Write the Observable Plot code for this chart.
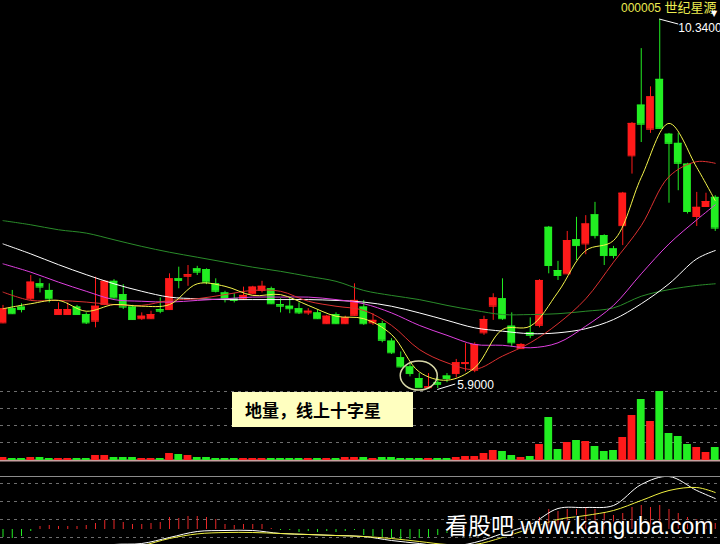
<!DOCTYPE html>
<html><head><meta charset="utf-8">
<script src="https://cdn.jsdelivr.net/npm/d3@7"></script>
<script src="https://cdn.jsdelivr.net/npm/@observablehq/plot@0.6"></script>
<style>
html,body{margin:0;padding:0;background:#000;}
#wrap{position:relative;width:720px;height:544px;overflow:hidden;background:#000;}
#title{position:absolute;left:621px;top:0px;white-space:nowrap;color:#ecec50;font-family:"Liberation Sans","Noto Sans CJK SC",sans-serif;font-size:12px;line-height:14px;}
#title .cn{font-family:"Noto Sans CJK SC",sans-serif;font-size:13px;}
#tri{position:absolute;left:711px;top:10px;color:#fff;font-size:8px;line-height:8px;font-family:"DejaVu Sans",sans-serif;}
#note{position:absolute;left:232px;top:392px;width:181px;height:35px;box-sizing:border-box;background:#ffffc0;color:#000;font-family:"Noto Sans CJK SC",sans-serif;font-weight:700;font-size:17px;line-height:35px;padding-left:13px;white-space:nowrap;}
#sep{position:absolute;left:0;top:476px;width:720px;height:1px;background:#8c8c8c;}
#wm{position:absolute;left:445px;top:515px;white-space:nowrap;color:#fff;font-family:"Liberation Sans","Noto Sans CJK SC",sans-serif;font-size:23px;line-height:23px;text-shadow:0 0 2px #000,1px 1px 1px #000,-1px -1px 1px #000;}
</style></head>
<body><div id="wrap"></div>
<script>
// ---------- data ----------
const stockName = "000005 世纪星源";
const noteText = "地量，线上十字星";
const watermark = "看股吧 www.kanguba.com";

const open = [6.69,6.86,6.88,6.98,7.16,7.08,6.79,6.79,6.88,6.79,
  6.71,6.91,7.19,7.03,6.88,6.74,6.74,6.85,6.85,7.22,
  7.25,7.34,7.33,7.16,7.05,6.98,6.98,7.04,7.08,7.10,
  6.91,6.89,6.86,6.81,6.81,6.68,6.79,6.68,6.78,6.88,
  6.69,6.68,6.47,6.27,6.16,6.02,5.91,5.97,6.05,6.08,
  6.20,6.12,6.57,6.89,6.98,6.65,6.38,6.57,6.66,7.84,
  7.32,7.28,7.69,7.64,7.99,7.74,7.58,7.86,8.70,9.31,
  9.02,9.62,8.96,8.85,8.60,7.97,8.09,8.20];
const close = [6.86,6.80,6.85,7.18,7.12,6.98,6.85,6.85,6.79,6.69,
  6.89,7.19,6.99,6.88,6.73,6.77,6.79,6.83,7.22,7.20,
  7.27,7.30,7.18,7.07,6.98,6.96,7.02,7.12,7.13,6.92,
  6.89,6.86,6.81,6.83,6.74,6.77,6.68,6.75,6.96,6.68,
  6.72,6.48,6.33,6.16,6.08,5.91,5.92,5.95,6.02,6.21,
  6.21,6.43,6.73,6.99,6.74,6.45,6.43,6.54,7.20,7.38,
  7.26,7.68,7.62,7.88,7.74,7.50,7.50,8.25,9.09,9.08,
  9.41,9.03,8.85,8.61,8.03,8.08,8.15,7.83];
const high = [6.90,7.08,6.92,7.26,7.22,7.16,6.93,6.93,6.90,6.81,
  7.24,7.20,7.21,7.15,6.90,6.81,6.83,6.99,7.28,7.36,
  7.38,7.37,7.34,7.22,7.07,7.04,7.12,7.13,7.19,7.12,
  6.98,6.99,6.93,6.86,6.84,6.78,6.81,6.77,7.16,6.96,
  6.80,6.71,6.50,6.34,6.20,6.08,6.08,6.03,6.08,6.25,
  6.44,6.45,6.77,7.04,7.22,6.81,6.44,6.75,7.21,7.85,
  7.43,7.79,7.96,7.98,8.14,7.75,7.61,8.26,9.10,9.99,
  9.53,10.34,8.97,8.97,8.61,8.26,8.25,8.22];
const low = [6.68,6.79,6.81,6.96,7.05,6.93,6.79,6.79,6.78,6.67,
  6.63,6.90,6.98,6.85,6.72,6.72,6.73,6.80,6.84,7.10,
  7.13,7.26,7.15,7.05,6.93,6.93,6.96,7.03,7.05,6.91,
  6.81,6.80,6.79,6.78,6.73,6.67,6.67,6.67,6.77,6.66,
  6.66,6.45,6.31,6.15,6.04,5.91,5.91,5.90,5.97,6.03,
  6.10,6.09,6.54,6.72,6.72,6.40,6.37,6.50,6.63,7.28,
  7.20,7.27,7.44,7.51,7.70,7.38,7.46,7.62,8.48,8.86,
  8.97,9.02,8.13,8.28,8.00,7.85,8.08,7.79];
const volume = [6,4,4,6,6,4,4,4,4,4,
  10,10,6,6,6,4,4,4,14,12,
  10,6,6,4,4,4,4,4,4,4,
  4,4,4,4,4,4,4,6,6,6,
  4,6,6,4,4,4,4,4,4,6,
  8,8,14,20,18,10,6,8,32,86,
  22,36,40,38,28,18,20,46,90,122,
  78,138,54,48,32,26,16,26];
const macd = [-0.04,-0.045,-0.035,-0.01,0.015,0.02,0.015,0.015,0.015,0.02,
  0.03,0.045,0.045,0.035,0.025,0.025,0.03,0.035,0.06,0.055,
  0.065,0.065,0.06,0.05,0.025,0.02,0.025,0.025,0.025,0.005,
  -0.005,-0.005,-0.015,-0.01,-0.015,-0.01,-0.015,-0.01,-0.005,-0.03,
  -0.035,-0.04,-0.045,-0.05,-0.05,-0.045,-0.04,-0.03,-0.02,-0.01,
  0.005,0.015,0.025,0.035,0.04,0.03,0.025,0.03,0.06,0.1,
  0.09,0.1,0.1,0.11,0.1,0.08,0.07,0.08,0.11,0.12,
  0.11,0.12,0.1,0.08,0.06,0.05,0.04,0.03];

// moving averages and MACD lines, read at every third session
const maIdx = [0,3,6,9,12,15,18,21,24,27,30,33,36,39,42,45,48,51,54,57,60,63,66,69,72,75,77];
const ma5  = [6.86,6.92,6.96,6.83,6.91,6.89,6.91,7.16,7.13,7.02,7.03,6.90,6.77,6.74,6.55,6.10,6.00,6.15,6.61,6.65,7.06,7.56,7.68,8.44,9.09,8.56,8.16];
const ma10 = [7.06,6.96,6.96,6.94,6.91,6.90,6.96,6.98,7.03,7.08,7.07,6.95,6.89,6.84,6.66,6.37,6.21,6.13,6.29,6.45,6.68,6.98,7.42,7.86,8.45,8.63,8.61];
const ma20 = [7.40,7.30,7.18,7.07,6.97,6.95,6.94,6.96,6.98,7.00,7.00,7.00,6.97,6.92,6.81,6.66,6.54,6.43,6.42,6.39,6.45,6.65,6.90,7.28,7.64,7.93,8.11];
const ma30 = [7.64,7.52,7.39,7.27,7.16,7.07,7.00,6.98,6.97,6.97,6.97,6.97,6.96,6.94,6.89,6.81,6.72,6.63,6.59,6.56,6.57,6.62,6.73,6.92,7.16,7.46,7.56];
const ma60 = [7.92,7.87,7.81,7.77,7.69,7.61,7.54,7.48,7.42,7.36,7.31,7.25,7.19,7.08,7.02,6.97,6.90,6.84,6.79,6.79,6.80,6.83,6.87,7.01,7.09,7.14,7.16];
const dif = [-0.12,-0.115,-0.105,-0.095,-0.075,-0.07,-0.04,-0.01,-0.005,-0.005,-0.02,-0.025,-0.03,-0.035,-0.055,-0.07,-0.085,-0.065,-0.02,0.025,0.105,0.11,0.12,0.225,0.265,0.195,0.155];
const dea = [-0.14,-0.135,-0.125,-0.11,-0.095,-0.08,-0.045,-0.022,-0.015,-0.015,-0.02,-0.025,-0.03,-0.035,-0.045,-0.06,-0.075,-0.075,-0.04,0.005,0.05,0.07,0.095,0.145,0.195,0.21,0.185];

const volGrid = [36,70,104,138];
const macdGrid = [0.23,0.14,0.05,-0.04];
const circleAt = {i: 45, p: 6.05};

// ---------- build ----------
const RED = "#ff1a1a", GREEN = "#22ee22";
const HALF = 0.42;
const n = open.length;
const candles = d3.range(n).map(i => ({i, o: open[i], h: high[i], l: low[i], c: close[i], v: volume[i], m: macd[i],
  col: close[i] > open[i] ? RED : GREEN}));
const maRows = maIdx.map((i, j) => ({i, ma5: ma5[j], ma10: ma10[j], ma20: ma20[j], ma30: ma30[j], ma60: ma60[j], dif: dif[j], dea: dea[j]}));
const hiIdx = d3.maxIndex(high), loIdx = d3.minIndex(low);
const fmt = d3.format(".4f");

const xOpt = {type: "linear", domain: [-0.2703, 77.5676], axis: null};
const x1 = d => d.i - HALF, x2 = d => d.i + HALF;

function annotations(index, scales) {
  const x = scales.x, y = scales.y;
  const g = d3.create("svg:g").attr("font-family", "Liberation Sans, sans-serif").attr("font-size", 12).attr("text-anchor", "start");
  const hx = x(hiIdx), hy = y(high[hiIdx]);
  g.append("path").attr("d", `M${hx},${hy}L${hx + 19},${hy + 5}`).attr("stroke", "#fff").attr("fill", "none");
  g.append("text").attr("x", hx + 19).attr("y", hy + 13).attr("fill", "#fff").attr("text-anchor", "start").text(fmt(high[hiIdx]));
  const lx = x(loIdx), ly = y(low[loIdx]);
  g.append("path").attr("d", `M${lx},${ly + 1.5}L${lx + 18},${ly - 4}`).attr("stroke", "#fff").attr("fill", "none");
  g.append("text").attr("x", lx + 20).attr("y", ly + 0.5).attr("fill", "#fff").attr("text-anchor", "start").text(fmt(low[loIdx]));
  g.append("ellipse").attr("cx", x(circleAt.i)).attr("cy", y(circleAt.p)).attr("rx", 18.5).attr("ry", 14.5)
    .attr("fill", "none").attr("stroke", "#d8d8a8").attr("stroke-width", 1.5);
  return g.node();
}

const maLine = (key, color) => Plot.line(maRows, {x: "i", y: key, stroke: color, strokeWidth: 1, curve: "catmull-rom"});

const main = Plot.plot({
  width: 720, height: 391, margin: 0,
  style: {background: "#000"},
  x: xOpt, y: {domain: [5.864, 10.569], axis: null},
  color: {type: "identity"},
  marks: [
    Plot.ruleX(candles, {x: "i", y1: "l", y2: "h", stroke: "col"}),
    Plot.rect(candles, {x1, x2, y1: "o", y2: "c", fill: "col"}),
    Plot.ruleY(candles, {y: "o", x1, x2, stroke: "col"}),
    Plot.ruleY(candles, {y: "c", x1, x2, stroke: "col"}),
    maLine("ma60", "#2a8c2a"),
    maLine("ma30", "#ffffff"),
    maLine("ma20", "#e040e0"),
    maLine("ma10", "#dc3030"),
    maLine("ma5", "#f4f44a"),
    annotations
  ]
});

const vol = Plot.plot({
  width: 720, height: 74, margin: 0,
  style: {background: "transparent"},
  x: xOpt, y: {domain: [-4, 144], axis: null},
  color: {type: "identity"},
  marks: [
    Plot.ruleY(volGrid, {stroke: "#6e6e6e", strokeDasharray: "3,4"}),
    Plot.ruleY([0], {stroke: "#c8a0a0", strokeWidth: 2}),
    Plot.rect(candles, {x1, x2, y1: 0, y2: "v", fill: "col"})
  ]
});

const mac = Plot.plot({
  width: 720, height: 67, margin: 0,
  style: {background: "transparent"},
  x: xOpt, y: {domain: [-0.075, 0.26], axis: null},
  color: {type: "identity"},
  marks: [
    Plot.ruleY(macdGrid, {stroke: "#6e6e6e", strokeDasharray: "3,4"}),
    Plot.ruleX(candles, {x: "i", y1: 0, y2: "m", stroke: d => d.m >= 0 ? "#e82828" : GREEN, clip: true}),
    Plot.line(maRows, {x: "i", y: "dif", stroke: "#ffffff", strokeWidth: 1, curve: "catmull-rom", clip: true}),
    Plot.line(maRows, {x: "i", y: "dea", stroke: "#f0f040", strokeWidth: 1, curve: "catmull-rom", clip: true})
  ]
});

const wrap = document.getElementById("wrap");
function place(el, top) { el.style.position = "absolute"; el.style.left = "0px"; el.style.top = top + "px"; wrap.appendChild(el); }
place(main, 0);
place(vol, 388);
const sep = document.createElement("div"); sep.id = "sep"; wrap.appendChild(sep);
place(mac, 477);

const title = document.createElement("div"); title.id = "title";
const [code, name] = stockName.split(" ");
title.innerHTML = `${code} <span class="cn">${name}</span>`;
wrap.appendChild(title);
const tri = document.createElement("div"); tri.id = "tri"; tri.textContent = "▼"; wrap.appendChild(tri);
const note = document.createElement("div"); note.id = "note"; note.textContent = noteText; wrap.appendChild(note);
const wm = document.createElement("div"); wm.id = "wm"; wm.textContent = watermark; wrap.appendChild(wm);
</script>
</body></html>
